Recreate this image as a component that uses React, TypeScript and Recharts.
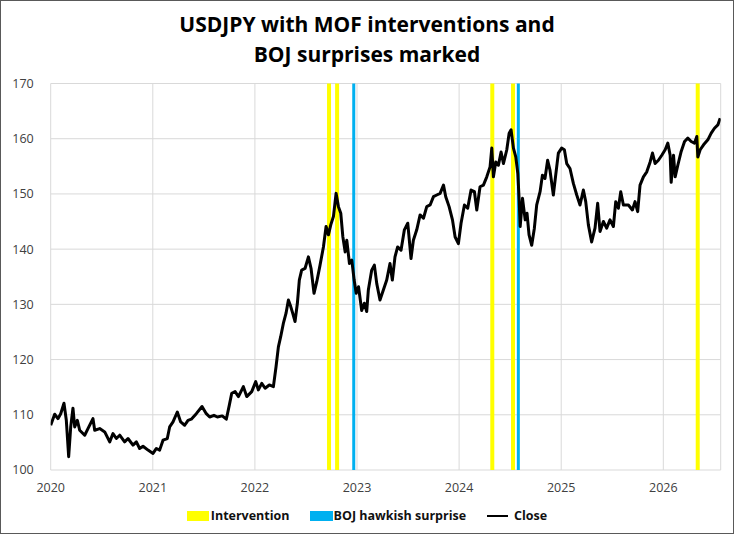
import React from 'react';
import {
  LineChart,
  Line,
  XAxis,
  YAxis,
  CartesianGrid,
  ReferenceLine,
} from 'recharts';

// Decimal-year timestamps and USDJPY closes
const dates = [
  2020.0, 2020.039, 2020.071, 2020.098, 2020.13, 2020.153, 2020.176, 2020.196, 2020.218, 2020.235,
  2020.261, 2020.284, 2020.333, 2020.365, 2020.414, 2020.431, 2020.48, 2020.529, 2020.578, 2020.61,
  2020.643, 2020.676, 2020.724, 2020.757, 2020.806, 2020.839, 2020.871, 2020.904, 2020.953, 2021.002,
  2021.035, 2021.067, 2021.1, 2021.142, 2021.165, 2021.198, 2021.24, 2021.273, 2021.312, 2021.345,
  2021.377, 2021.426, 2021.482, 2021.524, 2021.557, 2021.599, 2021.632, 2021.68, 2021.72, 2021.75,
  2021.773, 2021.806, 2021.839, 2021.887, 2021.92, 2021.969, 2022.008, 2022.034, 2022.067, 2022.1,
  2022.141, 2022.181, 2022.207, 2022.23, 2022.252, 2022.278, 2022.305, 2022.328, 2022.351, 2022.37,
  2022.393, 2022.416, 2022.435, 2022.458, 2022.491, 2022.524, 2022.55, 2022.579, 2022.606, 2022.638,
  2022.671, 2022.697, 2022.72, 2022.743, 2022.769, 2022.795, 2022.818, 2022.841, 2022.861, 2022.884,
  2022.9, 2022.926, 2022.949, 2022.972, 2022.992, 2023.015, 2023.046, 2023.072, 2023.095, 2023.111,
  2023.144, 2023.17, 2023.193, 2023.225, 2023.258, 2023.291, 2023.323, 2023.346, 2023.372, 2023.398,
  2023.431, 2023.464, 2023.497, 2023.529, 2023.552, 2023.585, 2023.618, 2023.651, 2023.683, 2023.716,
  2023.749, 2023.781, 2023.814, 2023.847, 2023.869, 2023.902, 2023.935, 2023.961, 2023.993, 2024.019,
  2024.052, 2024.084, 2024.117, 2024.15, 2024.173, 2024.205, 2024.238, 2024.271, 2024.303, 2024.32,
  2024.336, 2024.359, 2024.385, 2024.411, 2024.434, 2024.467, 2024.49, 2024.509, 2024.532, 2024.555,
  2024.575, 2024.588, 2024.598, 2024.621, 2024.647, 2024.665, 2024.685, 2024.711, 2024.737, 2024.76,
  2024.793, 2024.816, 2024.841, 2024.867, 2024.89, 2024.923, 2024.946, 2024.972, 2025.004, 2025.031,
  2025.054, 2025.086, 2025.119, 2025.152, 2025.184, 2025.217, 2025.24, 2025.266, 2025.298, 2025.331,
  2025.357, 2025.38, 2025.413, 2025.445, 2025.478, 2025.511, 2025.534, 2025.56, 2025.583, 2025.609,
  2025.658, 2025.697, 2025.723, 2025.749, 2025.772, 2025.805, 2025.838, 2025.871, 2025.894, 2025.92,
  2025.952, 2025.985, 2026.018, 2026.044, 2026.067, 2026.077, 2026.1, 2026.116, 2026.142, 2026.175,
  2026.208, 2026.24, 2026.273, 2026.305, 2026.328, 2026.338, 2026.361, 2026.394, 2026.436, 2026.469,
  2026.501, 2026.534, 2026.557,
];

const closes = [
  108.1, 110.1, 109.3, 110.2, 112.1, 109.0, 102.4, 107.8, 111.2, 107.8,
  109.0, 107.2, 106.3, 107.5, 109.3, 107.2, 107.5, 106.9, 105.1, 106.6,
  105.7, 106.3, 105.1, 105.7, 104.5, 105.1, 103.9, 104.3, 103.6, 103.0,
  103.9, 103.6, 105.4, 105.7, 107.8, 108.7, 110.5, 108.7, 108.1, 109.0,
  109.2, 110.2, 111.5, 110.2, 109.6, 109.9, 109.6, 109.8, 109.2, 111.8,
  113.9, 114.2, 113.3, 115.1, 113.3, 114.2, 116.0, 114.5, 115.7, 114.8,
  115.4, 115.1, 118.7, 122.3, 124.1, 126.5, 128.4, 130.8, 129.6, 128.4,
  126.9, 130.2, 134.4, 136.2, 136.5, 138.6, 136.5, 132.0, 134.1, 137.1,
  140.4, 144.1, 142.6, 144.4, 145.9, 150.1, 147.7, 146.5, 142.3, 139.5,
  141.6, 137.4, 138.0, 134.4, 132.0, 133.2, 128.9, 130.2, 128.7, 132.6,
  136.2, 137.1, 133.8, 130.8, 132.6, 134.4, 137.4, 134.4, 138.6, 140.4,
  139.8, 143.5, 144.7, 138.3, 141.6, 143.5, 146.2, 145.6, 147.7, 148.0,
  149.5, 149.8, 150.1, 151.6, 149.5, 147.7, 145.3, 142.2, 141.0, 144.7,
  148.0, 147.4, 150.7, 150.4, 147.1, 151.3, 151.6, 153.1, 154.9, 158.3,
  153.1, 155.8, 155.2, 157.6, 155.5, 158.0, 161.0, 161.6, 158.3, 156.7,
  153.7, 148.9, 144.1, 149.2, 145.3, 146.5, 142.6, 140.7, 143.8, 148.0,
  150.4, 153.4, 152.8, 156.1, 154.3, 149.8, 153.4, 157.4, 158.3, 158.0,
  155.5, 154.6, 151.9, 149.8, 148.0, 150.7, 148.6, 144.4, 141.3, 143.8,
  148.3, 143.2, 145.0, 143.8, 145.3, 144.1, 148.6, 147.4, 150.4, 148.0,
  148.0, 147.1, 148.6, 146.8, 151.6, 153.1, 154.0, 155.8, 157.4, 155.5,
  156.1, 157.0, 158.0, 159.2, 157.0, 152.1, 157.0, 153.1, 155.2, 157.7,
  159.5, 160.1, 159.5, 159.2, 160.4, 156.7, 158.0, 158.9, 159.8, 161.0,
  161.9, 162.5, 163.7,
];

const interventionDates = [2022.726, 2022.805, 2024.325, 2024.528, 2026.337];
const bojSurpriseDates = [2022.968, 2024.58];

const yearTicks = [2020, 2021, 2022, 2023, 2024, 2025, 2026];
const priceTicks = [100, 110, 120, 130, 140, 150, 160, 170];

const data = dates.map((t, i) => ({ t, close: closes[i] }));

const FONT = '"Open Sans", "Noto Sans", sans-serif';
const YELLOW = '#ffff00';
const BLUE = '#00b0f0';
const tickStyle = { fontSize: 12.5, fill: '#404040', fontFamily: FONT };

function LegendRow() {
  const item: React.CSSProperties = { display: 'flex', alignItems: 'center' };
  return (
    <div
      style={{
        position: 'absolute',
        left: 0,
        top: 506,
        width: 734,
        display: 'flex',
        justifyContent: 'center',
        fontFamily: FONT,
        fontWeight: 700,
        fontSize: 12.5,
        color: '#111',
        lineHeight: '20px',
      }}
    >
      <div style={item}>
        <span style={{ width: 22, height: 10, background: YELLOW, marginRight: 2 }} />
        Intervention
      </div>
      <div style={{ ...item, marginLeft: 20 }}>
        <span style={{ width: 23, height: 10, background: BLUE, marginRight: 1 }} />
        BOJ hawkish surprise
      </div>
      <div style={{ ...item, marginLeft: 21 }}>
        <span style={{ width: 21, height: 2, background: '#000', marginRight: 6 }} />
        Close
      </div>
    </div>
  );
}

export default function App() {
  return (
    <div
      style={{
        position: 'absolute',
        left: 0,
        top: 0,
        width: 734,
        height: 536,
        background: '#fff',
        overflow: 'hidden',
      }}
    >
      <div
        style={{
          position: 'absolute',
          left: 0,
          top: 9,
          width: 734,
          textAlign: 'center',
          fontFamily: FONT,
          fontWeight: 700,
          fontSize: 21,
          lineHeight: '30px',
          color: '#000',
        }}
      >
        USDJPY with MOF interventions and
        <br />
        BOJ surprises marked
      </div>

      <LineChart
        width={734}
        height={536}
        data={data}
        margin={{ top: 83.5, right: 13.3, bottom: 36, left: 0 }}
      >
        <CartesianGrid stroke="#d9d9d9" strokeWidth={1} />
        <XAxis
          dataKey="t"
          type="number"
          domain={[2020, 2026.562]}
          ticks={yearTicks}
          tickFormatter={(v: number) => String(Math.round(v))}
          axisLine={false}
          tickLine={false}
          tickSize={0}
          tickMargin={13}
          height={30}
          tick={tickStyle}
          allowDataOverflow
        />
        <YAxis
          type="number"
          domain={[100, 170]}
          ticks={priceTicks}
          axisLine={false}
          tickLine={false}
          tickSize={0}
          tickMargin={17}
          width={50.7}
          tick={tickStyle}
        />
        {interventionDates.map((d) => (
          <ReferenceLine key={`iv-${d}`} x={d} stroke={YELLOW} strokeWidth={4} />
        ))}
        {bojSurpriseDates.map((d) => (
          <ReferenceLine key={`boj-${d}`} x={d} stroke={BLUE} strokeWidth={3} />
        ))}
        <Line
          dataKey="close"
          type="linear"
          stroke="#000"
          strokeWidth={3}
          strokeLinejoin="round"
          dot={false}
          isAnimationActive={false}
        />
      </LineChart>

      <LegendRow />

      <div
        style={{
          position: 'absolute',
          left: 0,
          top: 0,
          width: 734,
          height: 534,
          boxSizing: 'border-box',
          border: '1.5px solid #595959',
          pointerEvents: 'none',
        }}
      />
    </div>
  );
}
